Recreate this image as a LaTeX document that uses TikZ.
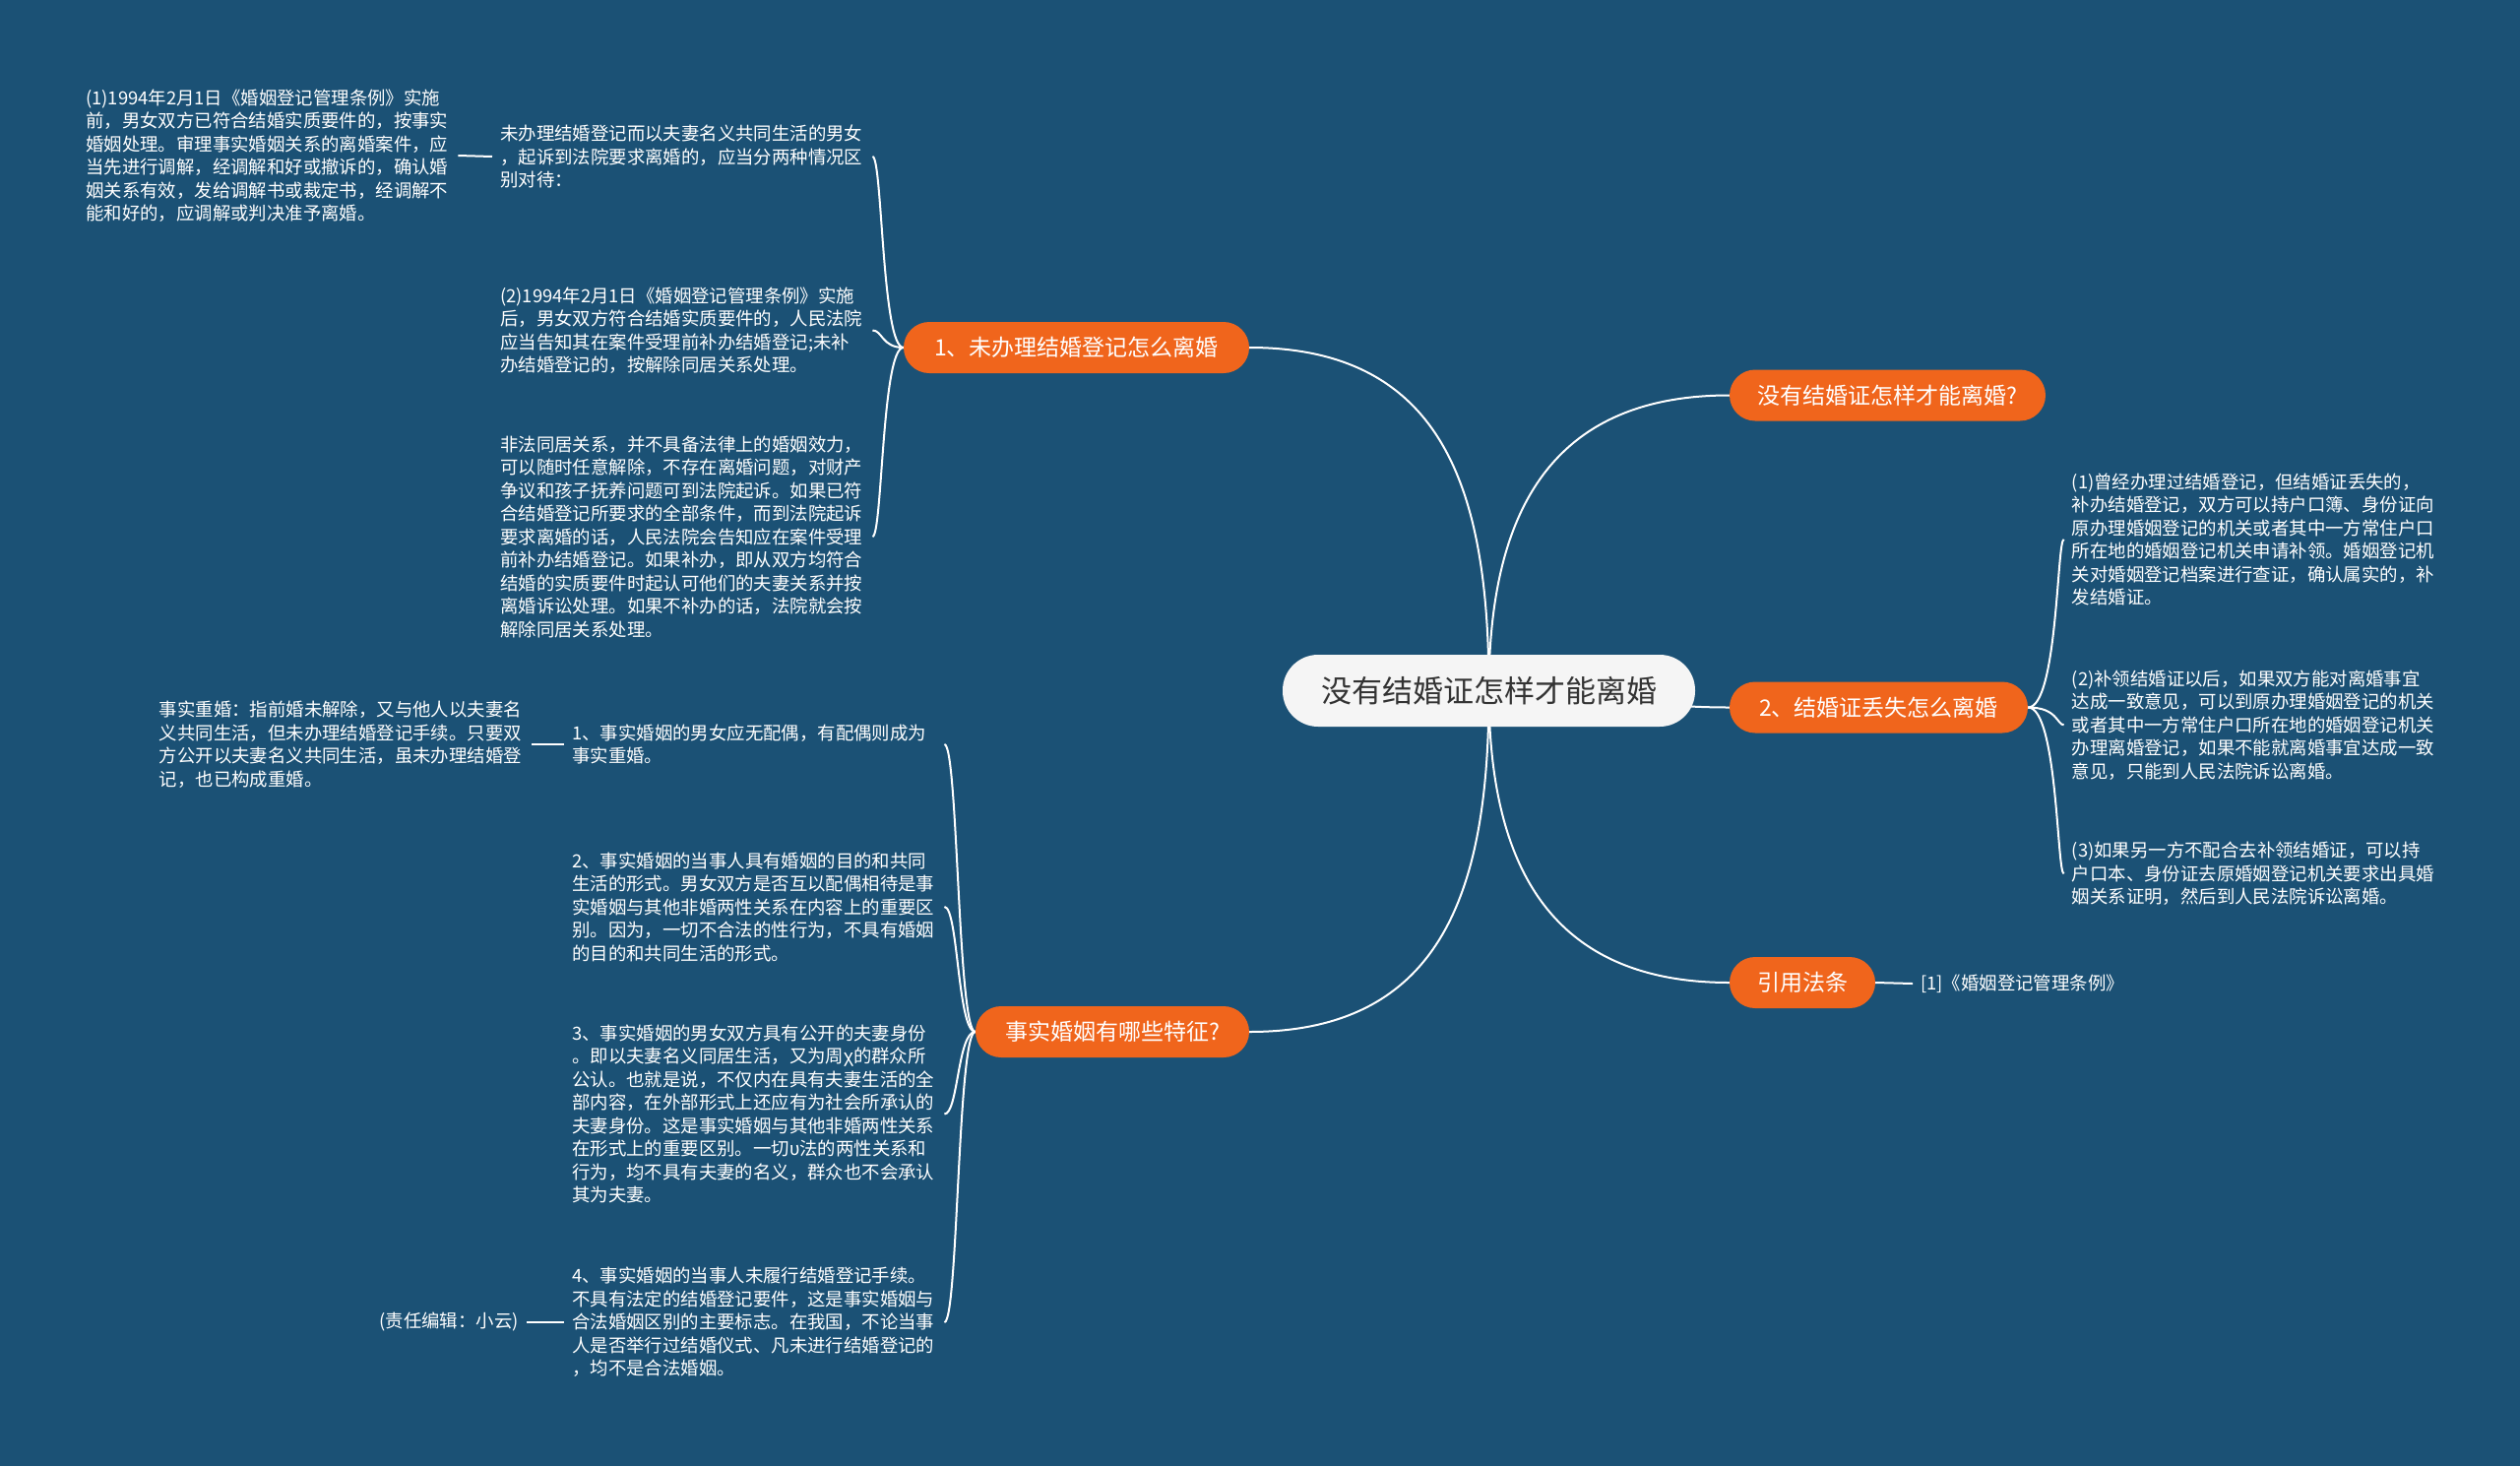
\documentclass[tikz,border=0pt]{standalone}
\usepackage{fontspec}
\setmainfont{Noto Sans CJK SC}
\usetikzlibrary{backgrounds}
\definecolor{bgc}{RGB}{27,81,117}
\definecolor{org}{RGB}{240,101,28}
\definecolor{ctrfill}{RGB}{245,245,245}
\definecolor{ctrtext}{RGB}{51,51,51}
\tikzset{
  link/.style={draw=white, line width=2pt},
  topic/.style={fill=org, text=white, rounded corners=26pt, minimum height=52pt, inner xsep=0pt, inner ysep=0pt, font=\fontsize{23}{28}\selectfont},
  leaf/.style={text=white, align=left, anchor=west, inner xsep=8pt, inner ysep=3pt, text width=370pt, font=\fontsize{18.4}{23.5}\selectfont},
  shortleaf/.style={text=white, inner xsep=8pt, inner ysep=3pt, font=\fontsize{18.4}{23.5}\selectfont},
  centre/.style={fill=ctrfill, text=ctrtext, rounded corners=36pt, minimum height=73pt, minimum width=419pt, inner sep=0pt, font=\fontsize{31}{36}\selectfont},
}
\begin{document}
\begin{tikzpicture}[x=1pt,y=1pt]
\useasboundingbox (0,0) rectangle (2560,-1489);

% centre and main topics
\node[centre] (C) at (1512.5,-701.5) {没有结婚证怎样才能离婚};
\node[topic, minimum width=351pt] (N1) at (1093.5,-353) {1、未办理结婚登记怎么离婚};
\node[topic, minimum width=321pt] (NT) at (1917.5,-401.5) {没有结婚证怎样才能离婚?};
\node[topic, minimum width=303pt] (N2) at (1908.5,-718.5) {2、结婚证丢失怎么离婚};
\node[topic, minimum width=148pt] (NR) at (1831,-998) {引用法条};
\node[topic, minimum width=278pt] (NF) at (1130,-1048) {事实婚姻有哪些特征?};

% left upper leaves
\node[leaf] (L1aa) at (79,-158) {(1)1994年2月1日《婚姻登记管理条例》实施\\前，男女双方已符合结婚实质要件的，按事实\\婚姻处理。审理事实婚姻关系的离婚案件，应\\当先进行调解，经调解和好或撤诉的，确认婚\\姻关系有效，发给调解书或裁定书，经调解不\\能和好的，应调解或判决准予离婚。};
\node[leaf] (L1a) at (500,-159) {未办理结婚登记而以夫妻名义共同生活的男女\\，起诉到法院要求离婚的，应当分两种情况区\\别对待：};
\node[leaf] (L1b) at (500,-335.5) {(2)1994年2月1日《婚姻登记管理条例》实施\\后，男女双方符合结婚实质要件的，人民法院\\应当告知其在案件受理前补办结婚登记;未补\\办结婚登记的，按解除同居关系处理。};
\node[leaf] (L1c) at (500,-545) {非法同居关系，并不具备法律上的婚姻效力，\\可以随时任意解除，不存在离婚问题，对财产\\争议和孩子抚养问题可到法院起诉。如果已符\\合结婚登记所要求的全部条件，而到法院起诉\\要求离婚的话，人民法院会告知应在案件受理\\前补办结婚登记。如果补办，即从双方均符合\\结婚的实质要件时起认可他们的夫妻关系并按\\离婚诉讼处理。如果不补办的话，法院就会按\\解除同居关系处理。};

% left lower leaves
\node[leaf] (B1a) at (153.6,-756) {事实重婚：指前婚未解除，又与他人以夫妻名\\义共同生活，但未办理结婚登记手续。只要双\\方公开以夫妻名义共同生活，虽未办理结婚登\\记，也已构成重婚。};
\node[leaf] (B1) at (573,-756) {1、事实婚姻的男女应无配偶，有配偶则成为\\事实重婚。};
\node[leaf] (B2) at (573,-921) {2、事实婚姻的当事人具有婚姻的目的和共同\\生活的形式。男女双方是否互以配偶相待是事\\实婚姻与其他非婚两性关系在内容上的重要区\\别。因为，一切不合法的性行为，不具有婚姻\\的目的和共同生活的形式。};
\node[leaf] (B3) at (573,-1131.5) {3、事实婚姻的男女双方具有公开的夫妻身份\\。即以夫妻名义同居生活，又为周χ的群众所\\公认。也就是说，不仅内在具有夫妻生活的全\\部内容，在外部形式上还应有为社会所承认的\\夫妻身份。这是事实婚姻与其他非婚两性关系\\在形式上的重要区别。一切υ法的两性关系和\\行为，均不具有夫妻的名义，群众也不会承认\\其为夫妻。};
\node[leaf] (B4) at (573,-1343) {4、事实婚姻的当事人未履行结婚登记手续。\\不具有法定的结婚登记要件，这是事实婚姻与\\合法婚姻区别的主要标志。在我国，不论当事\\人是否举行过结婚仪式、凡未进行结婚登记的\\，均不是合法婚姻。};
\node[shortleaf, anchor=east] (B4a) at (535,-1343) {(责任编辑：小云)};

% right leaves
\node[leaf] (R1) at (2096.6,-547.8) {(1)曾经办理过结婚登记，但结婚证丢失的，\\补办结婚登记，双方可以持户口簿、身份证向\\原办理婚姻登记的机关或者其中一方常住户口\\所在地的婚姻登记机关申请补领。婚姻登记机\\关对婚姻登记档案进行查证，确认属实的，补\\发结婚证。};
\node[leaf] (R2) at (2096.6,-736.3) {(2)补领结婚证以后，如果双方能对离婚事宜\\达成一致意见，可以到原办理婚姻登记的机关\\或者其中一方常住户口所在地的婚姻登记机关\\办理离婚登记，如果不能就离婚事宜达成一致\\意见，只能到人民法院诉讼离婚。};
\node[leaf] (R3) at (2096.6,-887.4) {(3)如果另一方不配合去补领结婚证，可以持\\户口本、身份证去原婚姻登记机关要求出具婚\\姻关系证明，然后到人民法院诉讼离婚。};
\node[shortleaf, anchor=west] (RF) at (1943,-999) {[1]《婚姻登记管理条例》};

\begin{scope}[on background layer]
  \fill[bgc] (0,0) rectangle (2560,-1489);
  % centre to topics
  \draw[link] (C.center) to[out=90,in=0,looseness=1.2] (N1.east);
  \draw[link] (C.center) to[out=90,in=180,looseness=1.2] (NT.west);
  \draw[link] (C.center) to[out=0,in=180] (N2.west);
  \draw[link] (C.center) to[out=-90,in=180,looseness=1.2] (NR.west);
  \draw[link] (C.center) to[out=-90,in=0,looseness=1.2] (NF.east);
  % topic 1 brackets
  \draw[link] (N1.west) .. controls +(-22,0) and +(10,0) .. (L1a.east);
  \draw[link] (N1.west) .. controls +(-22,0) and +(10,0) .. (L1b.east);
  \draw[link] (N1.west) .. controls +(-22,0) and +(10,0) .. (L1c.east);
  \draw[link] (L1aa.east) -- (L1a.west);
  % fact brackets
  \draw[link] (NF.west) .. controls +(-18,0) and +(14,0) .. (B1.east);
  \draw[link] (NF.west) .. controls +(-18,0) and +(14,0) .. (B2.east);
  \draw[link] (NF.west) .. controls +(-18,0) and +(14,0) .. (B3.east);
  \draw[link] (NF.west) .. controls +(-18,0) and +(14,0) .. (B4.east);
  \draw[link] (B1a.east) -- (B1.west);
  \draw[link] (B4a.east) -- (B4.west);
  % right brackets
  \draw[link] (N2.east) .. controls +(30,0) and +(-7,0) .. (R1.west);
  \draw[link] (N2.east) .. controls +(30,0) and +(-7,0) .. (R2.west);
  \draw[link] (N2.east) .. controls +(30,0) and +(-7,0) .. (R3.west);
  \draw[link] (NR.east) -- (RF.west);
\end{scope}
\end{tikzpicture}
\end{document}
